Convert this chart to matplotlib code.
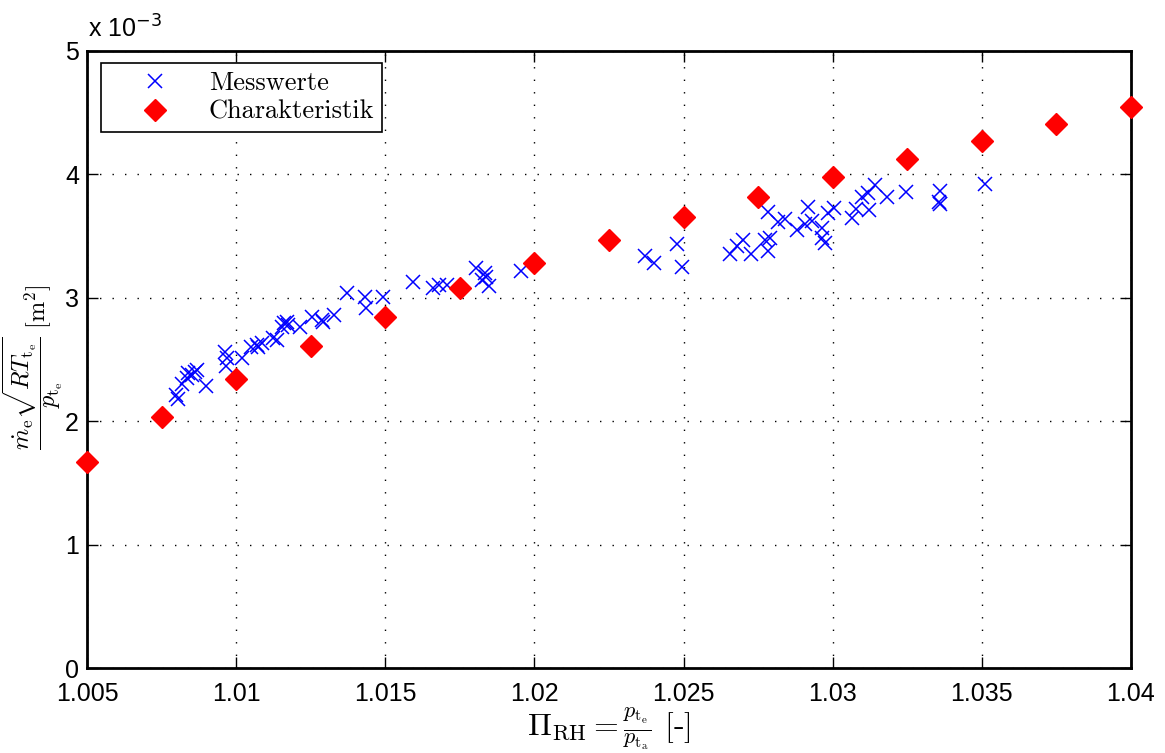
import matplotlib
matplotlib.use("Agg")
import matplotlib.pyplot as plt

# Messwerte (x: Druckverhältnis, y in 1e-3 m^2)
mess_x = [1.00798, 1.00805, 1.00817, 1.00833, 1.00839, 1.00850, 1.00861, 1.00867, 1.00898,
          1.00962, 1.00968, 1.00965, 1.01018, 1.01048, 1.01068, 1.01074, 1.01085, 1.01124,
          1.01137, 1.01152, 1.01160, 1.01169, 1.01174, 1.01214, 1.01253, 1.01286, 1.01292,
          1.01328, 1.01370, 1.01432, 1.01435, 1.01493, 1.01594, 1.01660, 1.01679, 1.01705,
          1.01804, 1.01823, 1.01834, 1.01837, 1.01848, 1.01954, 1.02371, 1.02401, 1.02477,
          1.02496, 1.02656, 1.02680, 1.02701, 1.02725, 1.02773, 1.02790, 1.02784, 1.02784,
          1.02818, 1.02840, 1.02880, 1.02908, 1.02919, 1.02930, 1.02963, 1.02963, 1.02975,
          1.02986, 1.03005, 1.03064, 1.03079, 1.03098, 1.03120, 1.03123, 1.03142, 1.03182,
          1.03246, 1.03360, 1.03358, 1.03360, 1.03511]
mess_y = [2.213, 2.178, 2.302, 2.348, 2.389, 2.375, 2.402, 2.415, 2.286,
          2.564, 2.510, 2.448, 2.515, 2.599, 2.618, 2.599, 2.632, 2.672,
          2.658, 2.766, 2.794, 2.806, 2.780, 2.766, 2.842, 2.820, 2.806,
          2.861, 3.041, 3.009, 2.915, 3.004, 3.124, 3.077, 3.104, 3.100,
          3.239, 3.144, 3.198, 3.171, 3.096, 3.219, 3.336, 3.284, 3.433,
          3.247, 3.352, 3.419, 3.468, 3.352, 3.468, 3.487, 3.379, 3.697,
          3.616, 3.636, 3.549, 3.595, 3.738, 3.624, 3.568, 3.482, 3.446,
          3.689, 3.725, 3.644, 3.717, 3.819, 3.846, 3.711, 3.913, 3.819,
          3.854, 3.867, 3.778, 3.757, 3.921]

# Charakteristik
char_x = [1.005, 1.0075, 1.01, 1.0125, 1.015, 1.0175, 1.02, 1.0225, 1.025,
          1.0275, 1.03, 1.0325, 1.035, 1.0375, 1.04]
char_y = [1.670, 2.037, 2.340, 2.610, 2.847, 3.077, 3.279, 3.468, 3.652,
          3.814, 3.976, 4.124, 4.270, 4.407, 4.543]

x_ticks = [1.005, 1.01, 1.015, 1.02, 1.025, 1.03, 1.035, 1.04]
x_labels = ["1.005", "1.01", "1.015", "1.02", "1.025", "1.03", "1.035", "1.04"]
y_ticks = [0, 1, 2, 3, 4, 5]

W, H = 1165, 753
fig = plt.figure(figsize=(W / 100, H / 100), dpi=100)
ax = fig.add_axes([87.3 / W, 1 - 668.3 / H, (1130.7 - 87.3) / W, (668.3 - 50.7) / H])

ax.plot(mess_x, mess_y, linestyle="none", marker="x", color="#0000ff",
        markersize=10, markeredgewidth=1.1, label="Messwerte", clip_on=False, zorder=3)
ax.plot(char_x, char_y, linestyle="none", marker="D", color="#ff0000",
        markersize=11, label="Charakteristik", clip_on=False, zorder=4)

ax.set_xlim(1.005, 1.04)
ax.set_ylim(0, 5)
ax.set_xticks(x_ticks)
ax.set_xticklabels(x_labels)
ax.set_yticks(y_ticks)

for lab in ax.get_xticklabels() + ax.get_yticklabels():
    lab.set_fontfamily("Liberation Sans")
    lab.set_fontsize(18)

ax.tick_params(direction="in", length=8, width=1, top=True, right=True, colors="black")
ax.tick_params(axis="x", pad=10)
ax.tick_params(axis="y", pad=6)
for sp in ax.spines.values():
    sp.set_linewidth(2)
    sp.set_color("black")

ax.grid(True, color="black", linestyle=(0, (1, 8)), linewidth=1)
ax.set_axisbelow(True)

ax.set_xlabel(r"$\Pi_{\mathrm{RH}} = \frac{p_{\mathrm{t_e}}}{p_{\mathrm{t_a}}}$ [-]",
              fontsize=23, family="cmr10", math_fontfamily="cm", labelpad=0)
ax.set_ylabel(r"$\dfrac{\dot{m}_{\mathrm{e}}\sqrt{RT_{\mathrm{t_e}}}}{p_{\mathrm{t_e}}}\ [\mathrm{m}^2]$",
              fontsize=17.5, math_fontfamily="cm")
ax.yaxis.set_label_coords(-0.021, 0.488)

fig.text(88 / W, 1 - 38 / H, r"x 10$^{-3}$", fontsize=18, family="Liberation Sans",
         math_fontfamily="dejavusans", ha="left", va="baseline")

leg = ax.legend(loc="upper left", bbox_to_anchor=(100.7 / W, 1 - 63.3 / H),
                bbox_transform=fig.transFigure, borderaxespad=0, numpoints=1,
                handlelength=3.5, handletextpad=0.3, fancybox=False, framealpha=1,
                edgecolor="black", prop={"family": "cmr10", "size": 19},
                borderpad=0.3, labelspacing=0.2)
leg.get_frame().set_linewidth(1.2)

fig.savefig("out.png", dpi=100)
